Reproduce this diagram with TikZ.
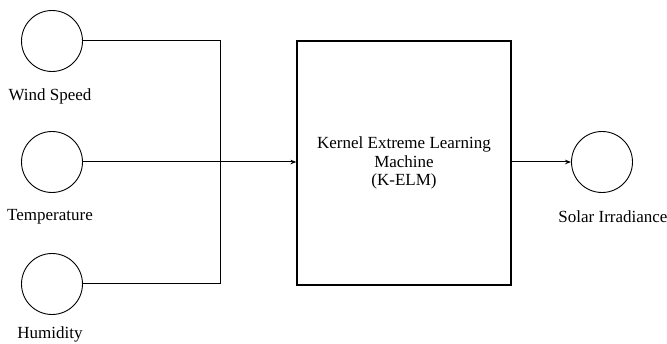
\documentclass[tikz,border=0pt]{standalone}
\usepackage{fontspec}
\setmainfont{Liberation Serif}
\usetikzlibrary{arrows.meta}
\begin{document}
\begin{tikzpicture}[x=1pt,y=-1pt,
  every node/.style={font=\fontsize{17}{19.5}\selectfont},
  inp/.style={draw,circle,minimum size=61pt,inner sep=0pt,line width=0.9pt},
  lbl/.style={inner sep=0pt},
  wire/.style={line width=1pt},
  arr/.style={line width=1pt,-{Stealth[length=6pt,width=4.5pt]}},
  block/.style={draw,line width=1.2pt,minimum width=214pt,minimum height=244pt,inner sep=0pt,align=center}]
\useasboundingbox (0,0) rectangle (667,344);
\node[inp] (ws) at (52,41) {};
\node[inp] (tp) at (52,162) {};
\node[inp] (hu) at (52,284) {};
\node[lbl] (wsl) at (50,96) {Wind Speed};
\node[lbl] (tpl) at (50,217) {Temperature};
\node[lbl] (hul) at (50,334) {Humidity};
\node[block] (kelm) at (404,163) {Kernel Extreme Learning\\[-1pt]Machine\\[-1pt](K-ELM)};
\node[inp] (out) at (602,162) {};
\node[lbl] (outl) at (613,217) {Solar Irradiance};
\coordinate (jt) at (220,41);
\coordinate (jb) at (220,284);
\draw[wire] (ws.east) -- (jt) -- (jb) -- (hu.east);
\draw[arr] (tp.east) -- (kelm.west |- tp.east);
\draw[arr] (kelm.east |- out.west) -- (out.west);
\end{tikzpicture}
\end{document}
